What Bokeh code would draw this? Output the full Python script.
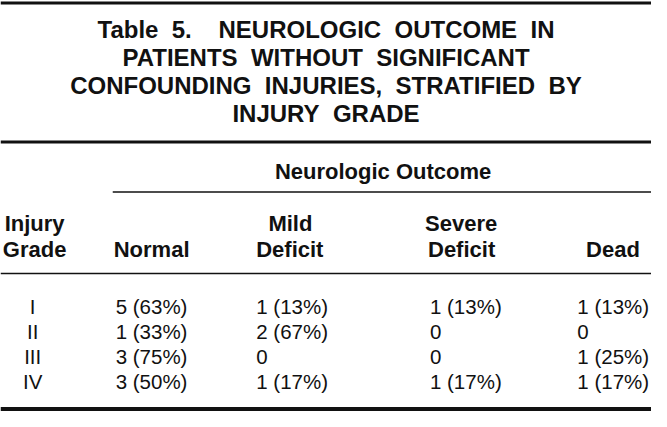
from bokeh.plotting import figure
from bokeh.models import ColumnDataSource, Range1d
from bokeh.core.properties import value
from bokeh.embed import file_html
from bokeh.resources import INLINE

NB = "\u00a0"
# ---- table content ----
title_lines = [f"Table{NB}{NB}5.{NB}{NB}{NB}{NB}NEUROLOGIC{NB}{NB}OUTCOME{NB}{NB}IN",
               f"PATIENTS{NB}{NB}WITHOUT{NB}{NB}SIGNIFICANT",
               f"CONFOUNDING{NB}{NB}INJURIES,{NB}{NB}STRATIFIED{NB}{NB}BY",
               f"INJURY{NB}{NB}GRADE"]
spanner = "Neurologic Outcome"
col_head_top = ["Injury", "", "Mild", "Severe", ""]
col_head_bottom = ["Grade", "Normal", "Deficit", "Deficit", "Dead"]
grades = ["I", "II", "III", "IV"]
normal = ["5 (63%)", "1 (33%)", "3 (75%)", "3 (50%)"]
mild = ["1 (13%)", "2 (67%)", "0", "1 (17%)"]
severe = ["1 (13%)", "0", "0", "1 (17%)"]
dead = ["1 (13%)", "0", "1 (25%)", "1 (17%)"]

# ---- layout (coordinates in a 667 x 427 sheet) ----
W, H = 667, 427
FONT = value("Liberation Sans")
INK = "#111111"

p = figure(width=651, height=411, output_backend="svg", toolbar_location=None,
           x_range=Range1d(0, W), y_range=Range1d(H, 0), min_border=0)
p.axis.visible = False
p.grid.visible = False
p.outline_line_color = None
p.background_fill_color = "white"
p.border_fill_color = "white"

# rules
rules = ColumnDataSource(dict(
    x0=[0, 0, 115, 0, 0], x1=[W, W, W, W, W],
    y=[2.5, 147, 199, 283.5, 424.5],
    w=[3, 3, 1.5, 1.5, 4]))
p.segment(x0="x0", y0="y", x1="x1", y1="y", line_width="w",
          line_color=INK, source=rules)

# title
ty = [30, 59, 88, 117]
p.text(x=[W / 2] * 4, y=ty, text=title_lines, text_font=FONT,
       text_font_style="bold", text_font_size="24px", text_align="center",
       text_baseline="middle", text_color=INK)

HF = "22px"
# spanner
p.text(x=[392], y=[178], text=[spanner], text_font=FONT, text_font_style="bold",
       text_font_size=HF, text_align="center", text_baseline="middle",
       text_color=INK)

# column headers
p.text(x=[35, 35], y=[232, 259], text=[col_head_top[0], col_head_bottom[0]],
       text_font=FONT, text_font_style="bold", text_font_size=HF,
       text_align="center", text_baseline="middle", text_color=INK)
p.text(x=[297, 472], y=[232, 232], text=[col_head_top[2], col_head_top[3]],
       text_font=FONT, text_font_style="bold", text_font_size=HF,
       text_align="center", text_baseline="middle", text_color=INK)
p.text(x=[116, 262, 438, 600], y=[259] * 4, text=col_head_bottom[1:],
       text_font=FONT, text_font_style="bold", text_font_size=HF,
       text_align="left", text_baseline="middle", text_color=INK)

# body
row_y = [318, 344, 370, 396]
DF = "20.5px"
p.text(x=[33] * 4, y=row_y, text=grades, text_font=FONT,
       text_font_size=DF, text_align="center", text_baseline="middle",
       text_color=INK)
for cx, col in zip([118, 262, 440, 591], [normal, mild, severe, dead]):
    p.text(x=[cx] * 4, y=row_y, text=col, text_font=FONT,
           text_font_size=DF, text_align="left", text_baseline="middle",
           text_color=INK)

open("out.html", "w").write(file_html(p, INLINE))
